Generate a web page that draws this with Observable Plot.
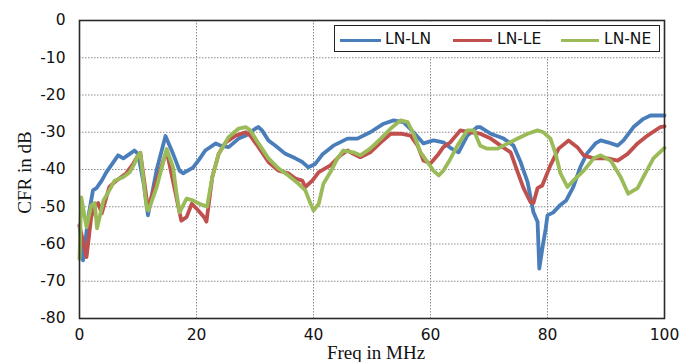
<!DOCTYPE html>
<html>
<head>
<meta charset="utf-8">
<script src="https://cdn.jsdelivr.net/npm/d3@7"></script>
<script src="https://cdn.jsdelivr.net/npm/@observablehq/plot@0.6"></script>
<style>
  html, body { margin: 0; padding: 0; background: #fff; }
  #wrap { position: relative; width: 695px; height: 362px; overflow: hidden; }
  #legendBg { position: absolute; left: 332px; top: 23px; width: 330px; height: 34px; background: #fff; }
  #legendBox { position: absolute; left: 334px; top: 25px; width: 324px; height: 25px; border: 1.5px solid #222; background: #fff; }
  .sw { position: absolute; top: 13px; height: 3px; }
  .lt { position: absolute; top: 3px; font-family: "DejaVu Sans", Verdana, sans-serif; font-size: 15.5px; color: #111; line-height: 20px; }
</style>
</head>
<body>
<div id="wrap"></div>
<script>
const seriesNames = ["LN-LN", "LN-LE", "LN-NE"];
const seriesColors = ["#4a7ebb", "#c0504d", "#9bbb59"];
const xTicks = [0, 20, 40, 60, 80, 100];
const yTicks = [0, -10, -20, -30, -40, -50, -60, -70, -80];

const freqLNLN = [0,0.6,1.5,2.3,2.9,3.8,4.6,5.8,6.6,7.5,8.6,9.4,10.0,11.0,11.7,13.2,14.7,16.0,17.1,17.7,19.4,20.5,21.5,23.3,24.1,25.5,27.2,28.4,30.1,30.6,31.2,32.3,33.5,35.2,36.9,38.1,39.1,40.3,41.5,43.4,45.8,47.5,49.7,52.0,53.7,55.4,57.1,58.8,60.5,62.2,63.6,64.8,66.3,68.0,68.5,70.3,72.5,74.2,75.4,76.6,77.6,78.3,78.6,79.2,79.7,80.0,81.0,82.2,83.2,84.4,85.6,86.7,88.2,89.1,90.3,92.0,93.0,94.7,96.4,97.6,100];
const cfrLNLN  = [-55,-64.4,-52.8,-45.6,-45,-43,-40.7,-38,-36.2,-37,-35.8,-34.9,-35.8,-44,-52.3,-40,-31,-35.8,-40.3,-41,-39.5,-37.2,-34.9,-33,-33.6,-34,-31.7,-30.9,-29,-28.6,-29.5,-32.2,-33.6,-35.8,-37,-38,-39.4,-38.5,-36,-33.6,-31.7,-31.7,-30,-27.7,-26.8,-27.3,-30,-33,-32.2,-32.7,-34.4,-35.4,-30.9,-28.6,-28.6,-30.4,-31.7,-33.6,-38,-43.4,-51.5,-54,-66.6,-60.4,-55.8,-52.3,-51.5,-49.5,-48.3,-44.7,-39.4,-35.8,-33,-32.2,-32.7,-33.6,-32.2,-28.6,-26.4,-25.5,-25.5];

const freqLNLE = [0,1.2,2.0,2.6,3.2,3.8,5.1,6.3,8.0,9.2,10.0,10.4,11.7,13.2,14.9,16.2,16.9,17.4,18.3,19.2,20.3,21.3,21.7,22.7,23.8,25.0,26.7,28.4,29.2,30.6,32.3,34.0,35.7,36.9,38.1,38.6,39.8,40.9,42.9,44.6,45.8,46.8,48.0,49.7,51.5,53.2,54.9,56.6,57.8,58.8,60.0,61.2,62.2,63.4,65.1,66.8,68.5,70.3,72.0,73.7,74.9,75.9,77.1,77.6,78.3,79.1,80.5,81.9,83.6,85.1,86.2,87.9,90.3,92.0,93.7,95.4,97.1,99.3,100];
const cfrLNLE  = [-55,-63.5,-52.8,-49.7,-49,-51.8,-44.7,-43,-41,-38.4,-36.2,-35.5,-50.5,-43,-35,-44.7,-50,-53.7,-52.8,-49.2,-51,-52.8,-54,-42,-35.8,-32.7,-30.9,-30,-30.9,-34,-38,-40.3,-41,-42.4,-43,-44.7,-43,-40.7,-38.9,-36.2,-34.9,-35.8,-36.7,-35.4,-32.7,-30.4,-30.4,-30.9,-33.6,-37.6,-38.4,-36.2,-34,-32.7,-29.5,-30,-30.4,-31.7,-33.6,-35.4,-40.7,-45,-48.8,-49,-45,-44.3,-38.9,-34.4,-32.2,-34,-36.2,-37,-37,-37.6,-35.8,-33,-30.9,-28.6,-28.4];

const freqLNNE = [0,0.3,1.2,2.0,2.6,3.0,4.1,5.1,6.0,7.5,8.6,9.4,10.0,10.4,11.5,11.8,13.2,14.9,16.0,16.6,17.1,18.3,19.4,20.5,21.8,22.7,23.8,25.5,27.2,28.4,29.2,30.6,32.3,34.0,35.7,37.4,38.6,39.5,40.0,40.9,41.7,42.9,44.1,45.1,46.8,48.0,49.7,51.5,53.2,54.9,56.1,57.1,58.3,59.5,60.5,61.4,62.2,63.1,64.6,66.3,67.4,68.5,69.7,71.5,73.2,74.9,76.6,78.3,79.3,80.5,81.4,82.2,83.4,84.4,86.2,87.9,89.1,90.8,92.5,93.8,95.4,96.4,98.1,100];
const cfrLNNE  = [-64,-47.5,-55.5,-49.7,-49,-55.8,-48.3,-45.6,-43,-42,-40.7,-38.4,-36.2,-35.5,-50.5,-51,-44.7,-34.5,-39.4,-46.5,-51.5,-47.8,-48.3,-49.2,-50,-42,-35.8,-31.3,-29,-28.6,-29.5,-33,-37,-39.7,-41.6,-43.8,-45.6,-49.2,-51,-49.2,-43.8,-40.7,-37,-34.9,-35.4,-36.2,-34.4,-31.7,-29,-26.8,-27.3,-30.4,-35.4,-38,-40.3,-41.6,-40.3,-38,-33.6,-29.5,-29.5,-33.6,-34.4,-34.4,-33,-31.7,-30.4,-29.5,-30,-31.7,-35.8,-41,-44.7,-43,-40.3,-37,-36.2,-37.6,-42,-46.5,-45,-42,-37,-34.2];

const xs = [freqLNLN, freqLNLE, freqLNNE];
const ys = [cfrLNLN, cfrLNLE, cfrLNNE];
const rows = [];
seriesNames.forEach((s, i) => xs[i].forEach((f, j) => rows.push({series: s, freq: f, cfr: ys[i][j]})));

const chart = Plot.plot({
  width: 695,
  height: 362,
  marginLeft: 79,
  marginRight: 31,
  marginTop: 20,
  marginBottom: 44,
  style: {fontFamily: "'DejaVu Sans', Verdana, sans-serif", fontSize: "15px", color: "#111", background: "#fff", overflow: "visible"},
  x: {domain: [0, 100]},
  y: {domain: [-80, 0]},
  color: {domain: seriesNames, range: seriesColors},
  marks: [
    Plot.gridX([20, 40, 60, 80], {stroke: "#8a8a8a", strokeOpacity: 1, strokeWidth: 1, strokeDasharray: "1.5,1.5"}),
    Plot.gridY([-10, -20, -30, -40, -50, -60, -70], {stroke: "#8a8a8a", strokeOpacity: 1, strokeWidth: 1, strokeDasharray: "1.5,1.5"}),
    Plot.line(rows, {x: "freq", y: "cfr", z: "series", stroke: "series", strokeWidth: 3.8, strokeLinejoin: "round", strokeLinecap: "round"}),
    Plot.frame({stroke: "#2a2a2a", strokeWidth: 1.6}),
    Plot.axisX({ticks: xTicks, tickSize: 0, tickPadding: 10, tickFormat: d => String(d), label: null, fontSize: 15.5}),
    Plot.axisY({ticks: yTicks, tickSize: 0, tickPadding: 14, tickFormat: d => String(d), label: null, fontSize: 15.5}),
    Plot.text(["Freq in MHz"], {frameAnchor: "bottom", textAnchor: "middle", dx: 4, dy: 40, text: d => d, fontFamily: "'Liberation Serif', 'Times New Roman', serif", fontSize: 19, fill: "#111"}),
    Plot.text(["CFR in dB"], {frameAnchor: "left", textAnchor: "middle", dx: -55, dy: 3, rotate: -90, text: d => d, fontFamily: "'Liberation Serif', 'Times New Roman', serif", fontSize: 19, fill: "#111"})
  ]
});
const wrap = document.getElementById("wrap");
wrap.appendChild(chart);

// legend
const bg = document.createElement("div"); bg.id = "legendBg"; wrap.appendChild(bg);
const box = document.createElement("div"); box.id = "legendBox"; wrap.appendChild(box);
const swLeft = [5, 118, 226];
const swW = [41, 39, 38];
const txLeft = [50, 162, 269];
seriesNames.forEach((s, i) => {
  const sw = document.createElement("div");
  sw.className = "sw";
  sw.style.left = swLeft[i] + "px";
  sw.style.width = swW[i] + "px";
  sw.style.background = seriesColors[i];
  box.appendChild(sw);
  const t = document.createElement("div");
  t.className = "lt";
  t.style.left = txLeft[i] + "px";
  t.textContent = s;
  box.appendChild(t);
});
</script>
</body>
</html>
